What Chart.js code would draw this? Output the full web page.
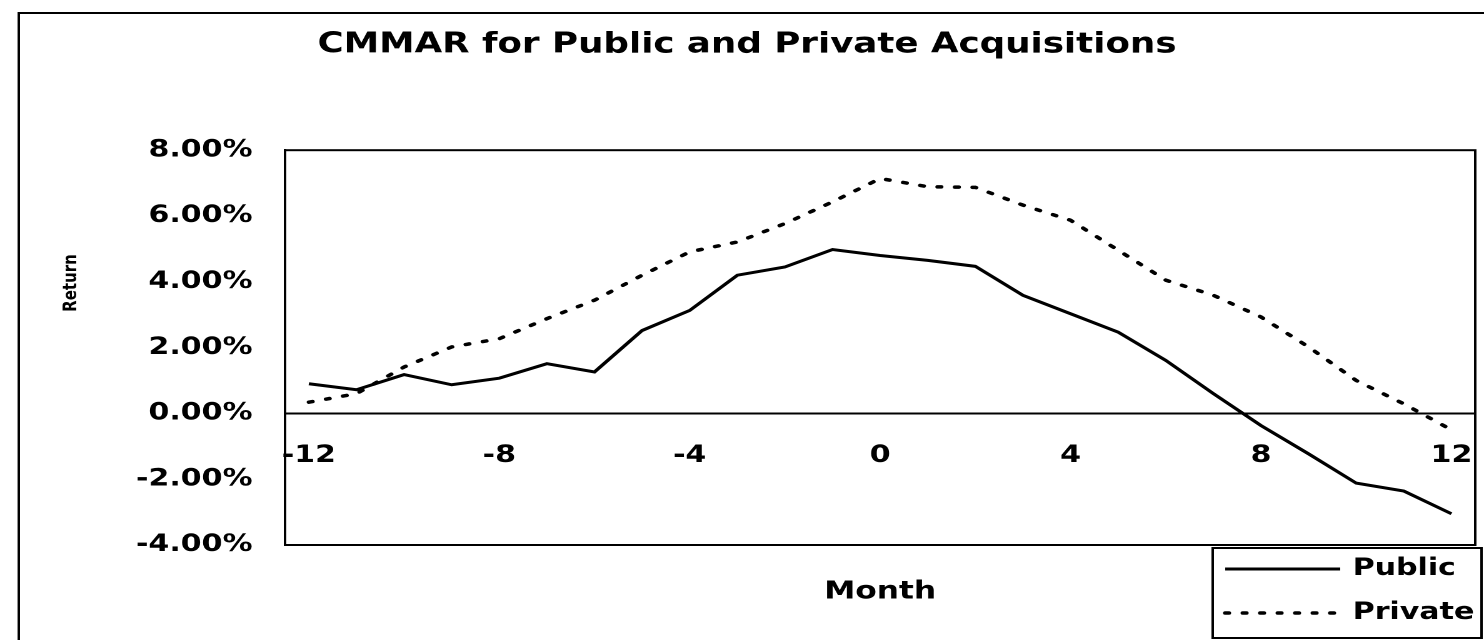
<!DOCTYPE html>
<html>
<head>
<meta charset="utf-8">
<title>CMMAR for Public and Private Acquisitions</title>
<script src="https://cdn.jsdelivr.net/npm/chart.js@4.4.1/dist/chart.umd.min.js"></script>
<style>
  html, body { margin: 0; padding: 0; background: #fff; overflow: hidden; }
  /* the scanned original is stretched wide, so the canvas is too */
  #wrap { position: relative; width: 1187px; height: 640px; transform: scaleX(1.2502); transform-origin: 0 0; }
</style>
</head>
<body>
<div id="wrap"><canvas id="cmmar"></canvas></div>
<script>
const months = [-12, -11, -10, -9, -8, -7, -6, -5, -4, -3, -2, -1, 0, 1, 2, 3, 4, 5, 6, 7, 8, 9, 10, 11, 12];
const publicRet = [0.90, 0.72, 1.18, 0.87, 1.07, 1.51, 1.26, 2.52, 3.13, 4.20, 4.45, 4.98, 4.80,
                   4.65, 4.47, 3.59, 3.03, 2.47, 1.61, 0.60, -0.37, -1.23, -2.12, -2.36, -3.05];
const privateRet = [0.34, 0.60, 1.41, 2.02, 2.27, 2.88, 3.44, 4.20, 4.91, 5.21, 5.77, 6.43, 7.14,
                    6.89, 6.87, 6.33, 5.87, 4.96, 4.05, 3.59, 2.93, 2.02, 1.00, 0.29, -0.50];
const xTickLabels = [-12, -8, -4, 0, 4, 8, 12];
const yTicks = [-4, -2, 0, 2, 4, 6, 8];

Chart.defaults.font.family = "'DejaVu Sans', sans-serif";
Chart.defaults.color = '#000';

// outer frame (left + top edge), box round the plot area, y axis title
const frame = {
  id: 'frame',
  afterDraw(chart) {
    const ctx = chart.ctx;
    const a = chart.chartArea;
    ctx.save();
    ctx.strokeStyle = '#000';
    ctx.lineWidth = 2;
    ctx.beginPath();
    ctx.moveTo(15, chart.height);
    ctx.lineTo(15, 13);
    ctx.lineTo(chart.width, 13);
    ctx.stroke();
    ctx.strokeRect(a.left, a.top, a.right - a.left, a.bottom - a.top);

    // "Return" sits higher than the middle of the axis in the original
    ctx.translate(57, 283);
    ctx.rotate(-Math.PI / 2);
    ctx.font = "bold 15px 'DejaVu Sans'";
    ctx.fillStyle = '#000';
    ctx.textAlign = 'center';
    ctx.textBaseline = 'middle';
    ctx.fillText('Return', 0, 0);
    ctx.restore();
  }
};

// boxed legend at the bottom right, one row per dataset
const boxLegend = {
  id: 'boxLegend',
  afterDraw(chart) {
    const ctx = chart.ctx;
    const x0 = 970, y0 = 548, w = 215, h = 90;
    ctx.save();
    ctx.fillStyle = '#fff';
    ctx.fillRect(x0, y0, w, h);
    ctx.strokeStyle = '#000';
    ctx.lineWidth = 2;
    ctx.strokeRect(x0, y0, w, h);
    ctx.font = "bold 24px 'DejaVu Sans'";
    ctx.textBaseline = 'middle';
    ctx.fillStyle = '#000';
    chart.data.datasets.forEach((ds, i) => {
      const y = y0 + 21 + i * 44;
      ctx.lineWidth = ds.borderWidth;
      ctx.lineCap = ds.borderCapStyle || 'butt';
      ctx.setLineDash(ds.borderDash || []);
      ctx.beginPath();
      ctx.moveTo(x0 + 10, y);
      ctx.lineTo(x0 + 102, y);
      ctx.stroke();
      ctx.setLineDash([]);
      ctx.fillText(ds.label, x0 + 112, y);
    });
    ctx.restore();
  }
};

const ctx = document.getElementById('cmmar').getContext('2d');

const chart = new Chart(ctx, {
  type: 'line',
  data: {
    labels: months,
    datasets: [{
      label: 'Public',
      data: publicRet,
      borderColor: '#000',
      borderWidth: 3,
      pointRadius: 0,
      tension: 0,
      fill: false
    }, {
      label: 'Private',
      data: privateRet,
      borderColor: '#000',
      borderWidth: 3.5,
      borderDash: [3, 11],
      borderCapStyle: 'round',
      pointRadius: 0,
      tension: 0,
      fill: false
    }]
  },
  options: {
    responsive: true,
    maintainAspectRatio: false,
    animation: false,
    devicePixelRatio: 2,
    layout: { padding: { left: 15, right: 7, top: 13, bottom: 0 } },
    plugins: {
      legend: { display: false },
      tooltip: { enabled: false },
      title: {
        display: true,
        text: 'CMMAR for Public and Private Acquisitions',
        font: { size: 28.5, weight: 'bold' },
        padding: { top: 15, bottom: 88 }
      },
      subtitle: {
        display: true,
        text: 'Month',
        position: 'bottom',
        fullSize: false,
        font: { size: 25, weight: 'bold' },
        padding: { top: 32, bottom: 33 }
      }
    },
    scales: {
      x: {
        type: 'category',
        position: { y: 0 },
        offset: true,
        grid: { display: false, drawTicks: false },
        border: { display: true, color: '#000', width: 2 },
        afterFit: function (scale) {
          // labels stay inside the plot, don't let them shrink it
          scale.paddingLeft = 0;
          scale.paddingRight = 0;
        },
        ticks: {
          autoSkip: false,
          maxRotation: 0,
          padding: 28,
          font: { size: 24, weight: 'bold' },
          callback: function (v, i) {
            return xTickLabels.includes(months[i]) ? String(months[i]) : null;
          }
        }
      },
      y: {
        position: 'left',
        min: yTicks[0],
        max: yTicks[yTicks.length - 1],
        grid: { display: false, drawTicks: false },
        border: { display: true, color: '#000', width: 2 },
        afterFit: function (scale) { scale.width = 213; },
        ticks: {
          stepSize: yTicks[1] - yTicks[0],
          padding: 26,
          font: { size: 24, weight: 'bold' },
          callback: v => v.toFixed(2) + '%'
        }
      }
    }
  },
  plugins: [frame, boxLegend]
});
</script>
</body>
</html>
